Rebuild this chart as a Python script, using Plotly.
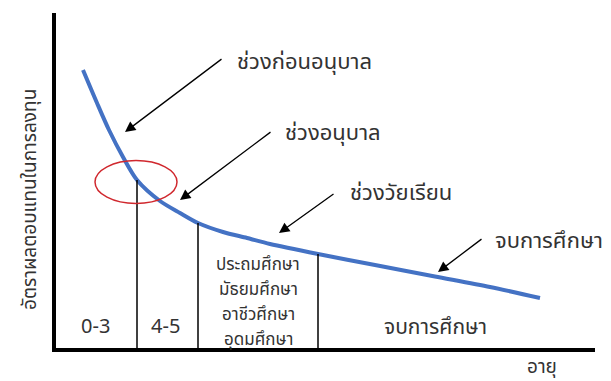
import plotly.graph_objects as go

# curve of returns on investment vs age (axis origin = bottom-left)
curve_x = [29, 43, 55, 69, 83, 106, 126, 144, 169, 193, 216, 264, 321, 381, 436, 486]
curve_y = [280, 247, 220, 193, 170, 149, 137, 127, 118, 112, 106, 96, 85, 73.5, 63, 52]

# age bands
boundary_idx = [4, 7, 11]   # curve points where the vertical dividers sit
band_labels = ["0-3", "4-5", "จบการศึกษา"]
band_label_x = [41, 111, 381]
school_levels = ["ประถมศึกษา", "มัธยมศึกษา", "อาชีวศึกษา", "อุดมศึกษา"]
school_x = 204

# call-outs: text, text position, arrow tail, arrow tip
callouts = [
    ("ช่วงก่อนอนุบาล", (181, 288), (169, 292), (71, 218)),
    ("ช่วงอนุบาล", (229, 217), (218, 219), (126, 150)),
    ("ช่วงวัยเรียน", (294, 157), (281, 157), (225, 117)),
    ("จบการศึกษา", (439, 109), (429, 112), (384, 78)),
]

FONT = "Noto Sans Thai, Tahoma, Noto Sans, sans-serif"
TXT = "#333333"
W, H = 603, 373   # page body margin adds 8px on the left/top
LW = 3.5          # axis line width; plotly puts the line lw/2 outside the plot area

fig = go.Figure()

fig.add_trace(go.Scatter(x=curve_x, y=curve_y, mode="lines",
                         line=dict(color="#4472C4", width=4, shape="spline", smoothing=0.8),
                         hoverinfo="skip"))

for i in boundary_idx:
    fig.add_trace(go.Scatter(x=[curve_x[i], curve_x[i]], y=[0, curve_y[i]], mode="lines",
                             line=dict(color="black", width=1.5), hoverinfo="skip"))

# red ring around the early-childhood point
cx, cy = curve_x[boundary_idx[0]] - 1, curve_y[boundary_idx[0]] - 2
fig.add_shape(type="circle", xref="x", yref="y", x0=cx - 41, x1=cx + 41, y0=cy - 21.5, y1=cy + 21.5,
              line=dict(color="#D0282E", width=1.5))

for text, (tx, ty), (ax, ay), (hx, hy) in callouts:
    fig.add_annotation(x=hx, y=hy, ax=ax, ay=ay, xref="x", yref="y", axref="x", ayref="y",
                       text="", showarrow=True, arrowhead=2, arrowsize=1.6, arrowwidth=1.3,
                       arrowcolor="black")
    fig.add_annotation(x=tx, y=ty, xref="x", yref="y", text=text, showarrow=False,
                       xanchor="left", yanchor="middle", font=dict(size=22, color=TXT, family=FONT))

for lab, lx in zip(band_labels, band_label_x):
    fig.add_annotation(x=lx, y=23, xref="x", yref="y", text=lab, showarrow=False,
                       font=dict(size=21 if lx > 300 else 20, color=TXT, family=FONT))

for k, lab in enumerate(school_levels):
    fig.add_annotation(x=school_x, y=85 - 25 * k, xref="x", yref="y", text=lab, showarrow=False,
                       borderpad=0, font=dict(size=17, color=TXT, family=FONT))

fig.add_annotation(x=534 / W, y=14 / H, xref="paper", yref="paper", text="อายุ",
                   xanchor="center", yanchor="middle",
                   showarrow=False, font=dict(size=19, color=TXT, family=FONT))
fig.add_annotation(x=22 / W, y=181 / H, xref="paper", yref="paper", text="อัตราผลตอบแทนในการลงทุน",
                   xanchor="center", yanchor="middle",
                   textangle=-90, showarrow=False, font=dict(size=19, color=TXT, family=FONT))

h = LW / 2
fig.update_layout(width=W, height=H, margin=dict(l=0, r=0, t=0, b=0),
                  plot_bgcolor="white", paper_bgcolor="white", showlegend=False,
                  xaxis=dict(domain=[(46 + h) / W, 587 / W], range=[h, 541], showline=True,
                             linecolor="black", linewidth=LW, showgrid=False, zeroline=False,
                             showticklabels=False, ticks=""),
                  yaxis=dict(domain=[(31 + h) / H, 368 / H], range=[h, 337], showline=True,
                             linecolor="black", linewidth=LW, showgrid=False, zeroline=False,
                             showticklabels=False, ticks=""))

fig.write_html("out.html")
